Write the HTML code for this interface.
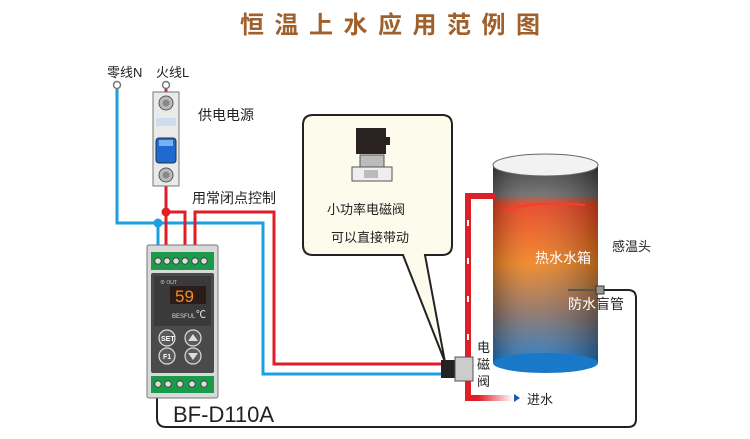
<!DOCTYPE html>
<html><head><meta charset="utf-8"><style>
body{margin:0;background:#fff;width:750px;height:439px;overflow:hidden}
svg{display:block}
text{font-family:"Liberation Sans","Noto Sans CJK SC",sans-serif}
</style></head><body>
<svg width="750" height="439" viewBox="0 0 750 439" xmlns="http://www.w3.org/2000/svg">
<defs>
<linearGradient id="tank" x1="0" y1="0" x2="0" y2="1">
<stop offset="0" stop-color="#3c3c3c"/><stop offset="0.15" stop-color="#6a6a6a"/>
<stop offset="0.2" stop-color="#e8401e"/><stop offset="0.5" stop-color="#ef8420"/>
<stop offset="0.75" stop-color="#8a7066"/><stop offset="1" stop-color="#1a78c8"/>
</linearGradient>
<linearGradient id="tankh" x1="0" y1="0" x2="1" y2="0">
<stop offset="0" stop-color="#000" stop-opacity="0.25"/><stop offset="0.35" stop-color="#fff" stop-opacity="0.08"/><stop offset="1" stop-color="#000" stop-opacity="0.3"/>
</linearGradient>
<linearGradient id="inlet" x1="0" y1="0" x2="1" y2="0">
<stop offset="0" stop-color="#e01e28"/><stop offset="1" stop-color="#fff"/>
</linearGradient>
</defs>
<text x="240" y="33" font-size="24" fill="#a0602c" letter-spacing="10.5" font-weight="bold">恒温上水应用范例图</text>

<!-- labels -->
<text x="107" y="77" font-size="13" fill="#222">零线N</text>
<text x="156" y="77" font-size="13" fill="#222">火线L</text>
<text x="198" y="120" font-size="14" fill="#222">供电电源</text>
<text x="192" y="203" font-size="14" fill="#222">用常闭点控制</text>

<!-- wires blue -->
<polyline points="117,88 117,223 263,223 263,374 448,374" fill="none" stroke="#1aa0e0" stroke-width="3"/>
<line x1="158" y1="223" x2="158" y2="262" stroke="#1aa0e0" stroke-width="3"/>
<circle cx="158" cy="223" r="4.5" fill="#1aa0e0"/>
<!-- wires red -->
<line x1="166" y1="88" x2="166" y2="262" stroke="#e01e28" stroke-width="3"/>
<polyline points="166,212 185,212 185,262" fill="none" stroke="#e01e28" stroke-width="3"/>
<polyline points="195,262 195,212 274,212 274,364 448,364" fill="none" stroke="#e01e28" stroke-width="3"/>
<circle cx="166" cy="212" r="4.5" fill="#e01e28"/>
<circle cx="117" cy="85" r="3.5" fill="#fff" stroke="#777" stroke-width="1.5"/>
<circle cx="166" cy="85" r="3.5" fill="#fff" stroke="#777" stroke-width="1.5"/>

<!-- breaker -->
<rect x="153" y="92" width="26" height="94" fill="#eaeaea" stroke="#777"/>
<circle cx="166" cy="103" r="7" fill="#bbb" stroke="#555"/><circle cx="166" cy="103" r="3.5" fill="#888"/>
<circle cx="166" cy="175" r="7" fill="#bbb" stroke="#555"/><circle cx="166" cy="175" r="3.5" fill="#888"/>
<rect x="156" y="118" width="20" height="8" fill="#cde"/>
<rect x="156" y="138" width="20" height="25" rx="3" fill="#1e6ad0" stroke="#234"/>
<rect x="159" y="140" width="14" height="6" fill="#7ab0f0"/>

<!-- black sensor wire -->
<path d="M157,392 L157,418 Q157,427 166,427 L628,427 Q636,427 636,419 L636,298 Q636,290 628,290 L604,290" fill="none" stroke="#222" stroke-width="2"/>

<!-- controller -->
<rect x="147" y="245" width="71" height="153" rx="2" fill="#d9d9d9" stroke="#777"/>
<rect x="151" y="252" width="63" height="18" fill="#1a9a4a"/>
<g fill="#ddd" stroke="#333" stroke-width="0.8">
<circle cx="158" cy="261" r="3.2"/><circle cx="167" cy="261" r="3.2"/><circle cx="176" cy="261" r="3.2"/><circle cx="185" cy="261" r="3.2"/><circle cx="195" cy="261" r="3.2"/><circle cx="204" cy="261" r="3.2"/>
</g>
<rect x="151" y="273" width="63" height="100" rx="2" fill="#4a4a4a"/>
<rect x="154" y="276" width="57" height="50" fill="#3a3a3a"/>
<rect x="170" y="286" width="36" height="18" fill="#2a1c18"/>
<text x="175" y="302" font-size="17" fill="#ff8a1a" font-family="Liberation Mono">59</text>
<text x="196" y="318" font-size="10" fill="#eee">℃</text>
<text x="172" y="318" font-size="6" fill="#ddd">BESFUL</text>
<text x="160" y="284" font-size="5" fill="#ccc">⊕ OUT</text>
<g fill="#5a5a5a" stroke="#ddd" stroke-width="1.2">
<circle cx="167" cy="338" r="8"/><circle cx="193" cy="338" r="8"/><circle cx="167" cy="356" r="8"/><circle cx="193" cy="356" r="8"/>
</g>
<text x="161" y="341" font-size="7" fill="#fff" font-weight="bold">SET</text>
<text x="163" y="359" font-size="7" fill="#fff" font-weight="bold">F1</text>
<path d="M188,341 L193,334 L198,341Z M188,353 L193,360 L198,353Z" fill="#ddd"/>
<rect x="151" y="376" width="63" height="17" fill="#1a9a4a"/>
<g fill="#ddd" stroke="#333" stroke-width="0.8">
<circle cx="158" cy="384" r="3.2"/><circle cx="168" cy="384" r="3.2"/><circle cx="180" cy="384" r="3.2"/><circle cx="192" cy="384" r="3.2"/><circle cx="204" cy="384" r="3.2"/>
</g>
<text x="173" y="422" font-size="22" fill="#222">BF-D110A</text>

<!-- bubble -->
<path d="M313,115 L442,115 Q452,115 452,125 L452,245 Q452,255 442,255 L425,255 L445,362 L403,255 L313,255 Q303,255 303,245 L303,125 Q303,115 313,115Z" fill="#fdfbec" stroke="#222" stroke-width="2"/>
<rect x="356" y="128" width="30" height="26" fill="#2a2222"/>
<rect x="384" y="137" width="6" height="8" fill="#2a2222"/>
<rect x="360" y="155" width="24" height="12" fill="#bbb" stroke="#555"/>
<rect x="352" y="167" width="40" height="14" fill="#eee" stroke="#555"/>
<rect x="364" y="170" width="14" height="8" fill="#bbb"/>
<text x="327" y="214" font-size="13" fill="#222">小功率电磁阀</text>
<text x="331" y="242" font-size="13" fill="#222">可以直接带动</text>

<!-- tank -->
<rect x="493" y="165" width="105" height="198" fill="url(#tank)"/>
<rect x="493" y="165" width="105" height="198" fill="url(#tankh)"/>
<ellipse cx="545.5" cy="363" rx="52.5" ry="10" fill="#1a78c8"/>
<ellipse cx="545.5" cy="165" rx="52.5" ry="11" fill="#f2f2f2" stroke="#666"/>
<path d="M505,210 Q540,200 585,205" stroke="#ff3a2a" stroke-width="2" fill="none"/>
<text x="535" y="263" font-size="14" fill="#fff">热水水箱</text>
<text x="612" y="251" font-size="13" fill="#222">感温头</text>
<line x1="568" y1="290" x2="596" y2="290" stroke="#555" stroke-width="2"/>
<rect x="596" y="286" width="8" height="8" fill="#999" stroke="#333"/>
<text x="568" y="309" font-size="14" fill="#fff">防水</text>
<text x="596" y="309" font-size="14" fill="#222">盲管</text>

<!-- red pipe -->
<polyline points="495,196 468,196 468,398 480,398" fill="none" stroke="#e01e28" stroke-width="6"/>
<rect x="478" y="395" width="35" height="6" fill="url(#inlet)"/>
<path d="M520,398 L514,394 L514,402Z" fill="#1a5ab0"/>
<text x="527" y="404" font-size="13" fill="#222">进水</text>
<g fill="#fff"><rect x="467" y="220" width="2" height="6"/><rect x="467" y="258" width="2" height="6"/><rect x="467" y="296" width="2" height="6"/><rect x="467" y="334" width="2" height="6"/></g>
<!-- valve -->
<rect x="441" y="360" width="14" height="18" fill="#222"/>
<rect x="455" y="357" width="18" height="24" fill="#ccc" stroke="#555"/>
<text x="477" y="352" font-size="13" fill="#222">电</text>
<text x="477" y="369" font-size="13" fill="#222">磁</text>
<text x="477" y="386" font-size="13" fill="#222">阀</text>
</svg>
</body></html>
